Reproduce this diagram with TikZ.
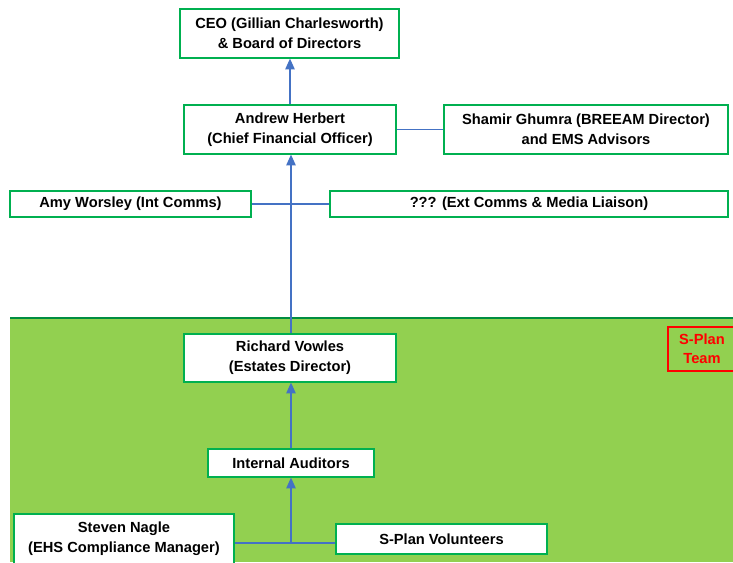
\documentclass[tikz,border=0pt]{standalone}
\usepackage{fontspec}
\setmainfont{Liberation Sans}
\usetikzlibrary{arrows.meta}
\definecolor{boxgreen}{HTML}{00B050}
\definecolor{teamgreen}{HTML}{92D050}
\definecolor{linkblue}{HTML}{4472C4}
\begin{document}
\begin{tikzpicture}[x=0.75pt,y=-0.75pt,
  box/.style={draw=boxgreen,fill=white,line width=0.9pt,align=center,inner sep=0pt,
    font=\bfseries\fontsize{11}{15}\selectfont},
  teambox/.style={draw=red,line width=0.9pt,align=center,inner sep=0pt,text=red,
    font=\bfseries\fontsize{11}{14}\selectfont},
  link/.style={draw=linkblue,line width=1pt},
  up/.style={link,-{Triangle[length=8pt,width=7pt]}}]
\useasboundingbox (0,0) rectangle (733,562);
% S-Plan team area
\fill[teamgreen] (10,318) rectangle (733,562);
\draw[boxgreen!80!black,line width=0.8pt] (10,318) -- (733,318);
\node[teambox,minimum width=51pt,minimum height=33pt] (team) at (702,349) {S-Plan\\Team};
% management
\node[box,minimum width=164.25pt,minimum height=36.75pt] (ceo) at (289.5,33.5) {CEO (Gillian Charlesworth)\\\& Board of Directors};
\node[box,minimum width=159pt,minimum height=36.75pt] (andrew) at (290,129.5) {Andrew Herbert\\(Chief Financial Officer)};
\node[box,minimum width=213pt,minimum height=36.75pt] (shamir) at (586,129.5) {Shamir Ghumra (BREEAM Director)\\and EMS Advisors};
\node[box,minimum width=180.75pt,minimum height=19.5pt] (amy) at (130.5,204) {Amy Worsley (Int Comms)};
\node[box,minimum width=298.5pt,minimum height=19.5pt] (ext) at (529,204) {??? (Ext Comms \& Media Liaison)};
% team
\node[box,minimum width=159pt,minimum height=36pt] (richard) at (290,358) {Richard Vowles\\(Estates Director)};
\node[box,minimum width=124.5pt,minimum height=21pt] (auditors) at (291,463) {Internal Auditors};
\node[box,minimum width=165pt,minimum height=37.5pt] (steven) at (124,539) {Steven Nagle\\(EHS Compliance Manager)};
\node[box,minimum width=158.25pt,minimum height=22.5pt] (volunteers) at (441.5,539) {S-Plan Volunteers};
\coordinate (join) at (291,543);
% connectors
\draw[up] (andrew.north) -- (andrew.north |- ceo.south);
\draw[link] (andrew.east) -- (shamir.west);
\draw[link] (amy.east) -- (ext.west);
\draw[up] (richard.north -| join) -- (join |- andrew.south);
\draw[up] (auditors.north -| join) -- (join |- richard.south);
\draw[link] (steven.east |- join) -- (volunteers.west |- join);
\draw[up] (join) -- (join |- auditors.south);
\end{tikzpicture}
\end{document}
